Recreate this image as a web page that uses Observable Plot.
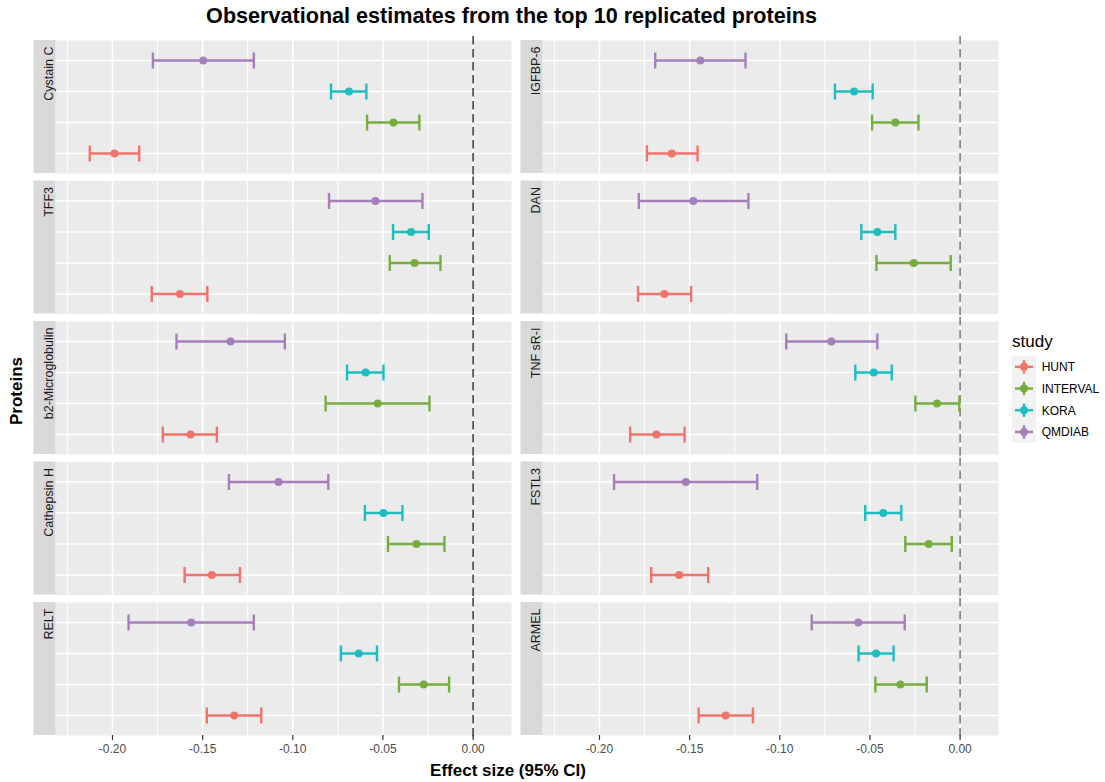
<!DOCTYPE html>
<html>
<head>
<meta charset="utf-8">
<script src="https://cdn.jsdelivr.net/npm/d3@7"></script>
<script src="https://cdn.jsdelivr.net/npm/@observablehq/plot@0.6"></script>
<style>
  body { margin: 0; background: #fff; font-family: "Liberation Sans", Arial, Helvetica, sans-serif; }
  #wrap { position: relative; width: 1105px; height: 782px; overflow: hidden; }
  #title { position: absolute; left: 0; top: 4px; width: 1023px; text-align: center; font-weight: bold; font-size: 21.6px; color: #000; line-height: 24px; }
  #chart { position: absolute; left: 0; top: 32px; }
  #ytitle { position: absolute; left: 17px; top: 391px; transform: translate(-50%, -50%) rotate(-90deg); font-weight: bold; font-size: 17px; white-space: nowrap; color: #000; }
  #xtitle { position: absolute; left: 508px; top: 762px; transform: translateX(-50%); font-weight: bold; font-size: 17px; white-space: nowrap; color: #000; line-height: 18px; }
  #legend { position: absolute; left: 1000px; top: 320px; }
</style>
</head>
<body>
<div id="wrap">
  <div id="title">Observational estimates from the top 10 replicated proteins</div>
  <div id="chart"></div>
  <div id="ytitle">Proteins</div>
  <div id="xtitle">Effect size (95% CI)</div>
  <div id="legend"></div>
</div>
<script>
// ---- data ----
const proteins = ["Cystain C", "IGFBP-6", "TFF3", "DAN", "b2-Microglobulin", "TNF sR-I", "Cathepsin H", "FSTL3", "RELT", "ARMEL"];
const studies = ["HUNT", "INTERVAL", "KORA", "QMDIAB"];
const studyColors = ["#F0736C", "#77AD3F", "#1EBDC2", "#A67EBB"];
const xTicks = [-0.20, -0.15, -0.10, -0.05, 0.00];
const xMinorTicks = [-0.225, -0.175, -0.125, -0.075, -0.025];
const xDomain = [-0.2316, 0.0213];
const nullEffect = 0;

const huntEst  = [-0.1989, -0.1599, -0.1626, -0.1640, -0.1567, -0.1684, -0.1449, -0.1558, -0.1325, -0.1300];
const huntLow  = [-0.2126, -0.1737, -0.1782, -0.1786, -0.1721, -0.1830, -0.1600, -0.1713, -0.1477, -0.1450];
const huntHigh = [-0.1852, -0.1456, -0.1474, -0.1492, -0.1421, -0.1528, -0.1293, -0.1397, -0.1175, -0.1149];

const intervalEst  = [-0.0442, -0.0359, -0.0325, -0.0257, -0.0529, -0.0128, -0.0314, -0.0174, -0.0274, -0.0331];
const intervalLow  = [-0.0588, -0.0488, -0.0462, -0.0464, -0.0818, -0.0248, -0.0472, -0.0304, -0.0411, -0.0470];
const intervalHigh = [-0.0298, -0.0231, -0.0181, -0.0052, -0.0242, -0.0004, -0.0159, -0.0046, -0.0133, -0.0185];

const koraEst  = [-0.0688, -0.0588, -0.0344, -0.0459, -0.0596, -0.0479, -0.0497, -0.0426, -0.0634, -0.0466];
const koraLow  = [-0.0788, -0.0694, -0.0444, -0.0548, -0.0699, -0.0581, -0.0600, -0.0526, -0.0733, -0.0563];
const koraHigh = [-0.0592, -0.0485, -0.0246, -0.0359, -0.0497, -0.0379, -0.0392, -0.0326, -0.0533, -0.0369];

const qmdiabEst  = [-0.1497, -0.1441, -0.0542, -0.1480, -0.1345, -0.0714, -0.1079, -0.1521, -0.1563, -0.0565];
const qmdiabLow  = [-0.1776, -0.1691, -0.0799, -0.1782, -0.1645, -0.0964, -0.1354, -0.1919, -0.1911, -0.0823];
const qmdiabHigh = [-0.1216, -0.1190, -0.0281, -0.1174, -0.1044, -0.0459, -0.0803, -0.1125, -0.1216, -0.0307];

// ---- tables built from the arrays ----
const series = {
  HUNT: [huntEst, huntLow, huntHigh],
  INTERVAL: [intervalEst, intervalLow, intervalHigh],
  KORA: [koraEst, koraLow, koraHigh],
  QMDIAB: [qmdiabEst, qmdiabLow, qmdiabHigh]
};
const rows = [];
proteins.forEach((p, i) => {
  studies.forEach(s => {
    const [e, l, h] = series[s];
    rows.push({protein: p, study: s, est: e[i], low: l[i], high: h[i], col: i % 2, row: Math.floor(i / 2)});
  });
});
const panels = proteins.map((p, i) => ({protein: p, col: i % 2, row: Math.floor(i / 2)}));
const fmt = d => d.toFixed(2);

// vertical cap symbol (error bar end)
const capSymbol = {
  draw(context, size) {
    const h = Math.sqrt(size / Math.PI);
    context.moveTo(0, -h);
    context.lineTo(0, h);
  }
};

const chart = Plot.plot({
  width: 1105,
  height: 750,
  marginLeft: 55,
  marginRight: 107,
  marginTop: 8,
  marginBottom: 47,
  style: {fontFamily: "'Liberation Sans', Arial, Helvetica, sans-serif", fontSize: "12px", background: "white", overflow: "visible"},
  x: {domain: xDomain, axis: null},
  y: {type: "point", domain: studies.slice().reverse(), padding: 0.6, axis: null},
  fx: {domain: [0, 1], axis: null, paddingInner: 0.06366, paddingOuter: 0, round: false},
  fy: {domain: [0, 1, 2, 3, 4], axis: null, paddingInner: 0.05338, paddingOuter: 0, round: false},
  color: {domain: studies, range: studyColors},
  marks: [
    Plot.frame({fill: "#EBEBEB"}),
    Plot.ruleX(xMinorTicks, {stroke: "white", strokeWidth: 1.0}),
    Plot.ruleX(xTicks, {stroke: "white", strokeWidth: 1.6}),
    Plot.ruleY(studies, {stroke: "white", strokeWidth: 1.6}),
    // strips on the left of each panel
    Plot.ruleX(panels, {x: () => xDomain[0], fx: "col", fy: "row", stroke: "#D9D9D9", strokeWidth: 22, dx: -11}),
    Plot.text(panels, {text: "protein", fx: "col", fy: "row", frameAnchor: "top-left", rotate: -90, textAnchor: "end", dx: -11, dy: 6, fontSize: 12.5, fill: "#1A1A1A"}),
    // reference line
    Plot.ruleX(panels.filter(d => d.col === 0), {x: () => nullEffect, fx: "col", fy: "row", stroke: "#1A1A1A", strokeWidth: 1.3, strokeDasharray: "8.5,4.5", insetTop: -4, insetBottom: -4}),
    Plot.ruleX(panels.filter(d => d.col === 1), {x: () => nullEffect, fx: "col", fy: "row", stroke: "#7F7F7F", strokeWidth: 1.6, strokeDasharray: "8.5,4.5", insetTop: -4, insetBottom: -4}),
    // error bars
    Plot.ruleY(rows, {y: "study", x1: "low", x2: "high", fx: "col", fy: "row", stroke: "study", strokeWidth: 2.4}),
    Plot.dot(rows, {x: "low", y: "study", fx: "col", fy: "row", stroke: "study", strokeWidth: 2.4, symbol: capSymbol, r: 8}),
    Plot.dot(rows, {x: "high", y: "study", fx: "col", fy: "row", stroke: "study", strokeWidth: 2.4, symbol: capSymbol, r: 8}),
    Plot.dot(rows, {x: "est", y: "study", fx: "col", fy: "row", fill: "study", r: 4}),
    Plot.axisX({ticks: xTicks, tickFormat: fmt, tickSize: 5, tickPadding: 4, stroke: "#333333", fill: "#4D4D4D", fontSize: 12, label: null, strokeWidth: 1.2})
  ]
});
document.getElementById("chart").appendChild(chart);

// ---- legend ----
const lg = d3.select("#legend").append("svg").attr("width", 105).attr("height", 130)
  .style("font-family", "'Liberation Sans', Arial, Helvetica, sans-serif");
lg.append("text").attr("x", 12).attr("y", 27).attr("font-size", 17).attr("fill", "#000").text("study");
const keyH = 21.7, key0 = 36;
studies.forEach((s, i) => {
  const cy = key0 + keyH * i + keyH / 2;
  const c = studyColors[i];
  lg.append("rect").attr("x", 12).attr("y", key0 + keyH * i).attr("width", 24).attr("height", keyH).attr("fill", "#F2F2F2");
  lg.append("line").attr("x1", 15).attr("x2", 33).attr("y1", cy).attr("y2", cy).attr("stroke", c).attr("stroke-width", 2.4);
  lg.append("line").attr("x1", 24).attr("x2", 24).attr("y1", cy - 6.7).attr("y2", cy + 6.7).attr("stroke", c).attr("stroke-width", 2.4);
  lg.append("circle").attr("cx", 24).attr("cy", cy).attr("r", 4).attr("fill", c);
  lg.append("text").attr("x", 41.7).attr("y", cy + 4.4).attr("font-size", 12).attr("fill", "#000").text(s);
});
</script>
</body>
</html>
